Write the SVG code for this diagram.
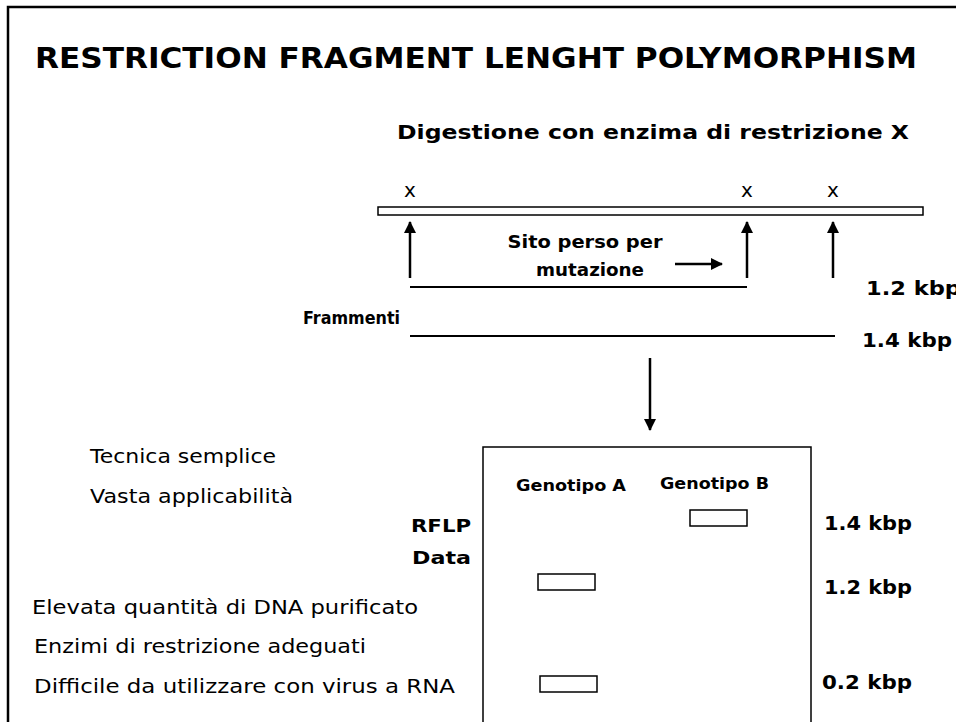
<svg xmlns="http://www.w3.org/2000/svg" width="956" height="722" viewBox="0 0 956 722">
<style>
text{font-family:"DejaVu Sans","Liberation Sans",sans-serif;fill:#000}
.t{font-size:29px;font-weight:bold}
.sub{font-size:20px;font-weight:bold}
.lab{font-size:17px;font-weight:bold}
.kb{font-size:19px;font-weight:bold}
.gen{font-size:15px;font-weight:bold}
.lst{font-size:20px}
.mk{font-size:20px}
.ln{stroke:#000;stroke-width:2.5;fill:none}
.box{stroke:#000;stroke-width:1.5;fill:#fff}
</style>
<defs>
<marker id="ah" viewBox="0 0 12 12" refX="11" refY="6" markerWidth="12" markerHeight="12" markerUnits="userSpaceOnUse" orient="auto">
<path d="M0,0 L12,6 L0,12 Z" fill="#000"/>
</marker>
</defs>
<rect width="956" height="722" fill="#fff"/>
<path d="M8,724 V7 H958" fill="none" stroke="#000" stroke-width="2.5"/>

<g id="title"><text class="t" x="35" y="68" textLength="882" lengthAdjust="spacingAndGlyphs">RESTRICTION FRAGMENT LENGHT POLYMORPHISM</text></g>
<g id="digestion"><text class="sub" x="397" y="139" textLength="512" lengthAdjust="spacingAndGlyphs">Digestione con enzima di restrizione X</text></g>

<g id="dna">
<rect x="378" y="207" width="545" height="8" fill="#fff" stroke="#000" stroke-width="1.5"/>
<text class="mk" x="410" y="197" text-anchor="middle">x</text>
<text class="mk" x="747" y="197" text-anchor="middle">x</text>
<text class="mk" x="833" y="197" text-anchor="middle">x</text>
</g>

<g id="connectors">
<line class="ln" x1="410" y1="278" x2="410" y2="222" marker-end="url(#ah)"/>
<line class="ln" x1="747" y1="278" x2="747" y2="222" marker-end="url(#ah)"/>
<line class="ln" x1="833" y1="278" x2="833" y2="222" marker-end="url(#ah)"/>
<line class="ln" x1="675" y1="264" x2="722" y2="264" marker-end="url(#ah)"/>
<line class="ln" x1="650" y1="358" x2="650" y2="430" marker-end="url(#ah)"/>
</g>

<g id="mutation-label">
<text class="lab" x="585" y="248" text-anchor="middle" textLength="155" lengthAdjust="spacingAndGlyphs">Sito perso per</text>
<text class="lab" x="590" y="276" text-anchor="middle" textLength="108" lengthAdjust="spacingAndGlyphs">mutazione</text>
</g>

<g id="fragments">
<line x1="410" y1="287" x2="747" y2="287" stroke="#000" stroke-width="2"/>
<line x1="410" y1="336" x2="835" y2="336" stroke="#000" stroke-width="2"/>
<text class="lab" x="303" y="324" textLength="97" lengthAdjust="spacingAndGlyphs">Frammenti</text>
<text class="kb" x="866" y="295" textLength="95" lengthAdjust="spacingAndGlyphs">1.2 kbp</text>
<text class="kb" x="862" y="347" textLength="90" lengthAdjust="spacingAndGlyphs">1.4 kbp</text>
</g>

<g id="pros">
<text class="lst" x="90" y="463" textLength="186" lengthAdjust="spacingAndGlyphs">Tecnica semplice</text>
<text class="lst" x="90" y="503" textLength="203" lengthAdjust="spacingAndGlyphs">Vasta applicabilità</text>
</g>

<g id="rflp-label">
<text class="lab" x="411" y="532" font-size="20" textLength="60" lengthAdjust="spacingAndGlyphs">RFLP</text>
<text class="lab" x="412" y="564" font-size="20" textLength="59" lengthAdjust="spacingAndGlyphs">Data</text>
</g>

<g id="cons">
<text class="lst" x="32" y="614" textLength="386" lengthAdjust="spacingAndGlyphs">Elevata quantità di DNA purificato</text>
<text class="lst" x="34" y="653" textLength="332" lengthAdjust="spacingAndGlyphs">Enzimi di restrizione adeguati</text>
<text class="lst" x="34" y="693" textLength="421" lengthAdjust="spacingAndGlyphs">Difficile da utilizzare con virus a RNA</text>
</g>

<g id="gel">
<rect x="483" y="447" width="328" height="290" fill="#fff" stroke="#000" stroke-width="1.5"/>
<text class="gen" x="516" y="491" textLength="110" lengthAdjust="spacingAndGlyphs">Genotipo A</text>
<text class="gen" x="660" y="489" textLength="109" lengthAdjust="spacingAndGlyphs">Genotipo B</text>
<rect class="box" x="690" y="510" width="57" height="16"/>
<rect class="box" x="538" y="574" width="57" height="16"/>
<rect class="box" x="540" y="676" width="57" height="16"/>
</g>

<g id="sizes">
<text class="kb" x="824" y="530" textLength="88" lengthAdjust="spacingAndGlyphs">1.4 kbp</text>
<text class="kb" x="824" y="594" textLength="88" lengthAdjust="spacingAndGlyphs">1.2 kbp</text>
<text class="kb" x="822" y="689" textLength="90" lengthAdjust="spacingAndGlyphs">0.2 kbp</text>
</g>
</svg>
